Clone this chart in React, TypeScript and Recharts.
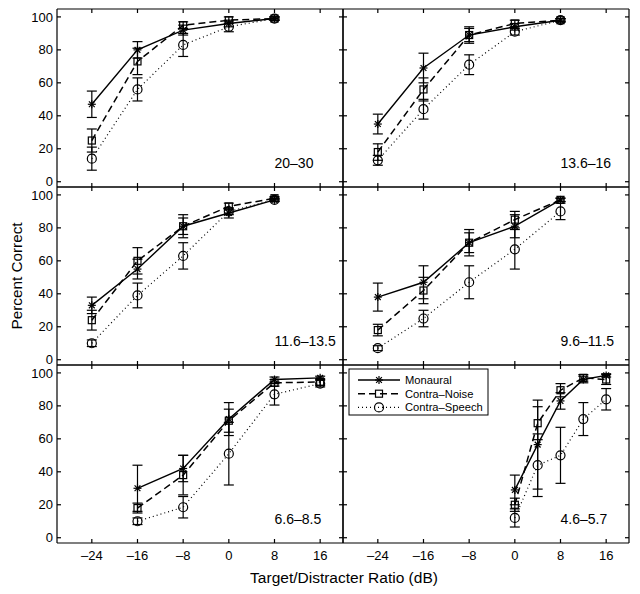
import React from 'react';
import { LineChart, Line, XAxis, YAxis, ErrorBar, ReferenceDot } from 'recharts';

const FONT = '"Liberation Sans", Arial, Helvetica, sans-serif';

// ---------- data ----------
const xStd = [-24, -16, -8, 0, 8];
const xLow = [-16, -8, 0, 8, 16];
const xFine = [0, 4, 8, 12, 16];
const xTicks = [-24, -16, -8, 0, 8, 16];
const yTicks = [0, 20, 40, 60, 80, 100];
const seriesNames = ['Monaural', 'Contra–Noise', 'Contra–Speech'];
const panelLabels = ['20–30', '13.6–16', '11.6–13.5', '9.6–11.5', '6.6–8.5', '4.6–5.7'];
const xTitle = 'Target/Distracter Ratio (dB)';
const yTitle = 'Percent Correct';

// Panel 1: 20–30
const p1Mon = [47, 80, 92, 96, 99];
const p1MonErr = [8, 5, 3, 2, 1];
const p1Noise = [25, 73, 95, 98, 99];
const p1NoiseErr = [7, 8, 2, 2, 1];
const p1Speech = [14, 56, 83, 94, 99];
const p1SpeechErr = [7, 7, 7, 3, 1];

// Panel 2: 13.6–16
const p2Mon = [35, 69, 89, 94, 98];
const p2MonErr = [6, 9, 5, 2, 1];
const p2Noise = [18, 56, 89, 96, 98];
const p2NoiseErr = [5, 7, 4, 2, 1];
const p2Speech = [13, 44, 71, 91, 98];
const p2SpeechErr = [3, 6, 6, 2, 1];

// Panel 3: 11.6–13.5
const p3Mon = [33, 55, 81, 89, 97];
const p3MonErr = [5, 6, 7, 3, 1];
const p3Noise = [24, 60, 81, 93, 98];
const p3NoiseErr = [6, 8, 5, 2, 1];
const p3Speech = [10, 39, 63, 90, 97];
const p3SpeechErr = [2, 7.5, 8, 2, 1];

// Panel 4: 9.6–11.5
const p4Mon = [38, 47, 71, 81, 97];
const p4MonErr = [8.5, 10, 8, 7, 1];
const p4Noise = [18, 42, 71, 85, 97];
const p4NoiseErr = [3.5, 8, 6, 5, 1];
const p4Speech = [7, 25, 47, 67, 90];
const p4SpeechErr = [1.5, 5, 10, 12, 5];

// Panel 5: 6.6–8.5
const p5Mon = [30, 42, 72, 96, 97];
const p5MonErr = [14, 8, 10, 1.5, 1];
const p5Noise = [18, 38, 71, 94, 94.5];
const p5NoiseErr = [3, 12, 7, 2, 2];
const p5Speech = [10, 18.5, 51, 87, 93.5];
const p5SpeechErr = [2, 6.5, 19, 6.5, 2];

// Panel 6: 4.6–5.7
const p6Mon = [29, 56.5, 83, 96, 98.5];
const p6MonErr = [9, 27, 5, 2, 1];
const p6Noise = [20, 69.5, 89.5, 97, 96];
const p6NoiseErr = [4, 10, 4, 2, 3];
const p6Speech = [12, 44, 50, 72, 84];
const p6SpeechErr = [5.5, 19, 17, 10, 6.5];

function build(xs: number[], mon: number[], monErr: number[], noise: number[], noiseErr: number[], speech: number[], speechErr: number[]) {
  return xs.map((x, i) => ({
    x,
    mon: mon[i], monErr: monErr[i],
    noise: noise[i], noiseErr: noiseErr[i],
    speech: speech[i], speechErr: speechErr[i],
  }));
}

const panels = [
  { label: panelLabels[0], data: build(xStd, p1Mon, p1MonErr, p1Noise, p1NoiseErr, p1Speech, p1SpeechErr) },
  { label: panelLabels[1], data: build(xStd, p2Mon, p2MonErr, p2Noise, p2NoiseErr, p2Speech, p2SpeechErr) },
  { label: panelLabels[2], data: build(xStd, p3Mon, p3MonErr, p3Noise, p3NoiseErr, p3Speech, p3SpeechErr) },
  { label: panelLabels[3], data: build(xStd, p4Mon, p4MonErr, p4Noise, p4NoiseErr, p4Speech, p4SpeechErr) },
  { label: panelLabels[4], data: build(xLow, p5Mon, p5MonErr, p5Noise, p5NoiseErr, p5Speech, p5SpeechErr) },
  { label: panelLabels[5], data: build(xFine, p6Mon, p6MonErr, p6Noise, p6NoiseErr, p6Speech, p6SpeechErr) },
];

// ---------- layout ----------
const PLOT_W = 286;
const PLOT_H = 178;
const COL_LEFT = [57, 343];
const ROW_TOP = [9, 187, 365];
const PAD = 3;
const X_DOMAIN: [number, number] = [-30.1, 20];
const Y_DOMAIN: [number, number] = [-3.2, 104.8];
const TICK = 4;
const SW = 1.2;

const fmt = (v: number) => (v < 0 ? `–${-v}` : `${v}`);
const noLabel = () => <g />;

// ---------- markers ----------
function StarMark({ cx, cy }: { cx: number; cy: number }) {
  const r = 4;
  const d = 2.9;
  return (
    <g stroke="#000" strokeWidth={1.2} fill="none">
      <line x1={cx - r} y1={cy} x2={cx + r} y2={cy} />
      <line x1={cx} y1={cy - r} x2={cx} y2={cy + r} />
      <line x1={cx - d} y1={cy - d} x2={cx + d} y2={cy + d} />
      <line x1={cx - d} y1={cy + d} x2={cx + d} y2={cy - d} />
    </g>
  );
}
function SquareMark({ cx, cy }: { cx: number; cy: number }) {
  return <rect x={cx - 3.5} y={cy - 3.5} width={7} height={7} stroke="#000" strokeWidth={1.2} fill="none" />;
}
function CircleMark({ cx, cy }: { cx: number; cy: number }) {
  return <circle cx={cx} cy={cy} r={4.5} stroke="#000" strokeWidth={1.2} fill="none" />;
}

const starDot = (p: any) => (p.cx == null ? <g key={`s${p.index}`} /> : <g key={`s${p.index}`}><StarMark cx={p.cx} cy={p.cy} /></g>);
const squareDot = (p: any) => (p.cx == null ? <g key={`q${p.index}`} /> : <g key={`q${p.index}`}><SquareMark cx={p.cx} cy={p.cy} /></g>);
const circleDot = (p: any) => (p.cx == null ? <g key={`c${p.index}`} /> : <g key={`c${p.index}`}><CircleMark cx={p.cx} cy={p.cy} /></g>);

const axisStyle = { stroke: '#000', strokeWidth: SW };

function Panel({ data, label, col, row }: { data: any[]; label: string; col: number; row: number }) {
  const isLeft = col === 0;
  const isBottom = row === 2;
  const chartLeft = isLeft ? 0 : COL_LEFT[1] - PAD;
  const chartTop = ROW_TOP[row] - PAD;
  const xLabelH = 34;
  const width = (isLeft ? COL_LEFT[0] : PAD) + PLOT_W + PAD;
  const height = PAD + PLOT_H + (isBottom ? xLabelH : PAD);
  return (
    <div style={{ position: 'absolute', left: chartLeft, top: chartTop }}>
      <LineChart
        width={width}
        height={height}
        data={data}
        margin={{ top: PAD, right: PAD, bottom: isBottom ? 0 : PAD, left: isLeft ? 0 : PAD }}
      >
        <XAxis xAxisId="B" dataKey="x" type="number" domain={X_DOMAIN} ticks={xTicks} orientation="bottom" mirror
          tick={noLabel} tickSize={TICK} axisLine={axisStyle} tickLine={axisStyle} interval={0} allowDataOverflow />
        <XAxis xAxisId="T" dataKey="x" type="number" domain={X_DOMAIN} ticks={xTicks} orientation="top" mirror
          tick={noLabel} tickSize={TICK} axisLine={axisStyle} tickLine={axisStyle} interval={0} allowDataOverflow />
        {isBottom && (
          <XAxis xAxisId="BL" dataKey="x" type="number" domain={X_DOMAIN} ticks={xTicks} orientation="bottom"
            height={xLabelH} axisLine={false} tickLine={false} tickSize={3} tickMargin={5} interval={0}
            tickFormatter={fmt} tick={{ fontSize: 13, fill: '#000', fontFamily: FONT }} allowDataOverflow />
        )}
        <YAxis yAxisId="L" type="number" domain={Y_DOMAIN} ticks={yTicks} orientation="left" mirror
          tick={noLabel} tickSize={TICK} axisLine={axisStyle} tickLine={axisStyle} interval={0} allowDataOverflow />
        <YAxis yAxisId="R" type="number" domain={Y_DOMAIN} ticks={yTicks} orientation="right" mirror
          tick={noLabel} tickSize={TICK} axisLine={axisStyle} tickLine={axisStyle} interval={0} allowDataOverflow />
        {isLeft && (
          <YAxis yAxisId="LL" type="number" domain={Y_DOMAIN} ticks={yTicks} orientation="left" width={COL_LEFT[0]}
            axisLine={false} tickLine={false} tickSize={2} tickMargin={2} interval={0}
            tick={{ fontSize: 13, fill: '#000', fontFamily: FONT }} allowDataOverflow />
        )}
        <Line xAxisId="B" yAxisId="L" dataKey="speech" type="linear" stroke="#000" strokeWidth={1.2}
          strokeDasharray="1 3" dot={circleDot} activeDot={false} isAnimationActive={false}>
          <ErrorBar dataKey="speechErr" direction="y" width={5} stroke="#000" strokeWidth={1.2} />
        </Line>
        <Line xAxisId="B" yAxisId="L" dataKey="noise" type="linear" stroke="#000" strokeWidth={1.5}
          strokeDasharray="7 4" dot={squareDot} activeDot={false} isAnimationActive={false}>
          <ErrorBar dataKey="noiseErr" direction="y" width={5} stroke="#000" strokeWidth={1.2} />
        </Line>
        <Line xAxisId="B" yAxisId="L" dataKey="mon" type="linear" stroke="#000" strokeWidth={1.4}
          dot={starDot} activeDot={false} isAnimationActive={false}>
          <ErrorBar dataKey="monErr" direction="y" width={5} stroke="#000" strokeWidth={1.2} />
        </Line>
        <ReferenceDot xAxisId="B" yAxisId="L" x={8} y={8.5} r={0}
          shape={(p: any) => (
            <text x={p.cx} y={p.cy} fontSize={14} fontFamily={FONT} fill="#000" textAnchor="start">{label}</text>
          )} />
      </LineChart>
    </div>
  );
}

function LegendBox() {
  const bx = COL_LEFT[1] + 6;
  const by = ROW_TOP[2] + 4;
  const rows = [
    { name: seriesNames[0], dash: undefined as string | undefined, sw: 1.4, Mark: StarMark },
    { name: seriesNames[1], dash: '7 4', sw: 1.5, Mark: SquareMark },
    { name: seriesNames[2], dash: '1 3', sw: 1.2, Mark: CircleMark },
  ];
  return (
    <g>
      <rect x={bx} y={by} width={139} height={46} fill="#fff" stroke="#000" strokeWidth={1} />
      {rows.map((r, i) => {
        const y = by + 11 + i * 13.7;
        return (
          <g key={r.name}>
            <line x1={bx + 9} y1={y} x2={bx + 51} y2={y} stroke="#000" strokeWidth={r.sw} strokeDasharray={r.dash} />
            <r.Mark cx={bx + 30} cy={y} />
            <text x={bx + 56} y={y + 4} fontSize={11.2} fontFamily={FONT} fill="#000">{r.name}</text>
          </g>
        );
      })}
    </g>
  );
}

export default function App() {
  return (
    <div style={{ position: 'absolute', left: 0, top: 0, width: 640, height: 594, background: '#fff', overflow: 'hidden' }}>
      {panels.map((p, i) => (
        <Panel key={p.label} data={p.data} label={p.label} col={i % 2} row={Math.floor(i / 2)} />
      ))}
      <svg width={640} height={594} style={{ position: 'absolute', left: 0, top: 0, pointerEvents: 'none' }}>
        <text x={344} y={583} fontSize={15.5} fontFamily={FONT} fill="#000" textAnchor="middle">{xTitle}</text>
        <text transform="translate(21.5,276) rotate(-90)" fontSize={15.3} fontFamily={FONT} fill="#000" textAnchor="middle">{yTitle}</text>
        <LegendBox />
      </svg>
    </div>
  );
}
